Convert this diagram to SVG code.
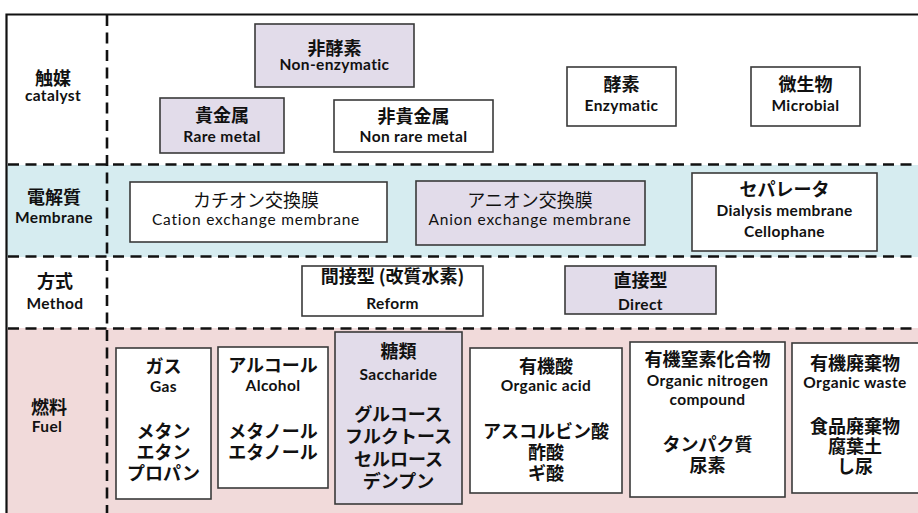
<svg xmlns="http://www.w3.org/2000/svg" width="918" height="513" viewBox="0 0 918 513">
<style>
.jp{font-family:"Noto Sans CJK JP","Lato",sans-serif;font-size:18px;font-weight:700;fill:#111;text-anchor:middle}
.en{font-family:"Lato","Noto Sans CJK JP",sans-serif;font-size:15.5px;font-weight:700;letter-spacing:0.35px;fill:#111;text-anchor:middle}
.reg{font-weight:400}
.en.reg{letter-spacing:0.8px}
.box{stroke:#3a3a3a;stroke-width:1.6}
.w{fill:#fff}
.p{fill:#e2dcea}
.dash{stroke:#111;stroke-width:2.6;stroke-dasharray:11 6.5;fill:none}
</style>
<rect x="0" y="0" width="918" height="513" fill="#fff"/>
<g id="bands">
<rect x="6" y="165" width="912" height="92" fill="#d6ecf0"/>
<rect x="6" y="328" width="912" height="185" fill="#f1dada"/>
</g>
<g id="frame">
<path d="M6.5 513 V14.5 H918" fill="none" stroke="#111" stroke-width="2.2"/>
</g>
<g id="connectors">
<line class="dash" x1="8" y1="164.5" x2="918" y2="164.5"/>
<line class="dash" x1="8" y1="256.5" x2="918" y2="256.5"/>
<line class="dash" x1="8" y1="328.5" x2="918" y2="328.5"/>
<line class="dash" x1="107" y1="15" x2="107" y2="513"/>
</g>
<g id="label-catalyst"><text class="jp" x="53" y="85">触媒</text><text class="en" x="53" y="101">catalyst</text></g>
<g id="label-membrane"><text class="jp" x="54" y="204">電解質</text><text class="en" x="54" y="223">Membrane</text></g>
<g id="label-method"><text class="jp" x="55" y="288">方式</text><text class="en" x="55" y="309">Method</text></g>
<g id="label-fuel"><text class="jp" x="49" y="414">燃料</text><text class="en" x="47" y="432">Fuel</text></g>

<g id="non-enzymatic"><rect class="box p" x="255" y="24" width="159" height="63"/><text class="jp" x="334.5" y="55">非酵素</text><text class="en" x="334.5" y="70">Non-enzymatic</text></g>
<g id="rare-metal"><rect class="box p" x="160" y="98" width="124" height="55"/><text class="jp" x="222" y="122">貴金属</text><text class="en" x="222" y="141.5">Rare metal</text></g>
<g id="non-rare-metal"><rect class="box w" x="334" y="100" width="159" height="52"/><text class="jp" x="413.5" y="123">非貴金属</text><text class="en" x="413.5" y="142">Non rare metal</text></g>
<g id="enzymatic"><rect class="box w" x="567" y="67" width="109" height="59"/><text class="jp" x="621.5" y="91">酵素</text><text class="en" x="621.5" y="111">Enzymatic</text></g>
<g id="microbial"><rect class="box w" x="751" y="67" width="109" height="59"/><text class="jp" x="805.5" y="91">微生物</text><text class="en" x="805.5" y="111">Microbial</text></g>

<g id="cation"><rect class="box w" x="130" y="182" width="257" height="60"/><text class="jp reg" x="256" y="207">カチオン交換膜</text><text class="en reg" x="256" y="225">Cation exchange membrane</text></g>
<g id="anion"><rect class="box p" x="416" y="181" width="229" height="64"/><text class="jp reg" x="530" y="207">アニオン交換膜</text><text class="en reg" x="530" y="225">Anion exchange membrane</text></g>
<g id="separator"><rect class="box w" x="692" y="173" width="185" height="78"/><text class="jp" x="784.5" y="196">セパレータ</text><text class="en" x="784.5" y="216">Dialysis membrane</text><text class="en" x="784.5" y="237">Cellophane</text></g>

<g id="reform"><rect class="box w" x="302" y="266" width="181" height="50"/><text class="jp" x="392.5" y="283">間接型 (改質水素)</text><text class="en" x="392.5" y="309">Reform</text></g>
<g id="direct"><rect class="box p" x="565" y="266" width="151" height="48"/><text class="jp" x="640.5" y="287">直接型</text><text class="en" x="640.5" y="310">Direct</text></g>

<g id="gas"><rect class="box w" x="116" y="348" width="95" height="151"/><text class="jp" x="163.5" y="373">ガス</text><text class="en" x="163.5" y="392">Gas</text><text class="jp" x="163.5" y="438">メタン</text><text class="jp" x="163.5" y="459">エタン</text><text class="jp" x="163.5" y="480">プロパン</text></g>
<g id="alcohol"><rect class="box w" x="218" y="347" width="110" height="141"/><text class="jp" x="273" y="372">アルコール</text><text class="en" x="273" y="391">Alcohol</text><text class="jp" x="273" y="438">メタノール</text><text class="jp" x="273" y="459">エタノール</text></g>
<g id="saccharide"><rect class="box p" x="335" y="332" width="127" height="172"/><text class="jp" x="398.5" y="358">糖類</text><text class="en" x="398.5" y="380">Saccharide</text><text class="jp" x="398.5" y="421">グルコース</text><text class="jp" x="398.5" y="443">フルクトース</text><text class="jp" x="398.5" y="466">セルロース</text><text class="jp" x="398.5" y="488">デンプン</text></g>
<g id="organic-acid"><rect class="box w" x="470" y="348" width="152" height="145"/><text class="jp" x="546" y="373">有機酸</text><text class="en" x="546" y="391">Organic acid</text><text class="jp" x="546" y="438">アスコルビン酸</text><text class="jp" x="546" y="459">酢酸</text><text class="jp" x="546" y="480">ギ酸</text></g>
<g id="organic-nitrogen"><rect class="box w" x="630" y="342" width="155" height="155"/><text class="jp" x="707.5" y="366">有機窒素化合物</text><text class="en" x="707.5" y="386">Organic nitrogen</text><text class="en" x="707.5" y="405">compound</text><text class="jp" x="707.5" y="451">タンパク質</text><text class="jp" x="707.5" y="472">尿素</text></g>
<g id="organic-waste"><rect class="box w" x="792" y="343" width="128" height="150"/><text class="jp" x="855" y="370">有機廃棄物</text><text class="en" x="855" y="388">Organic waste</text><text class="jp" x="855" y="433">食品廃棄物</text><text class="jp" x="855" y="453">腐葉土</text><text class="jp" x="855" y="473">し尿</text></g>
</svg>
